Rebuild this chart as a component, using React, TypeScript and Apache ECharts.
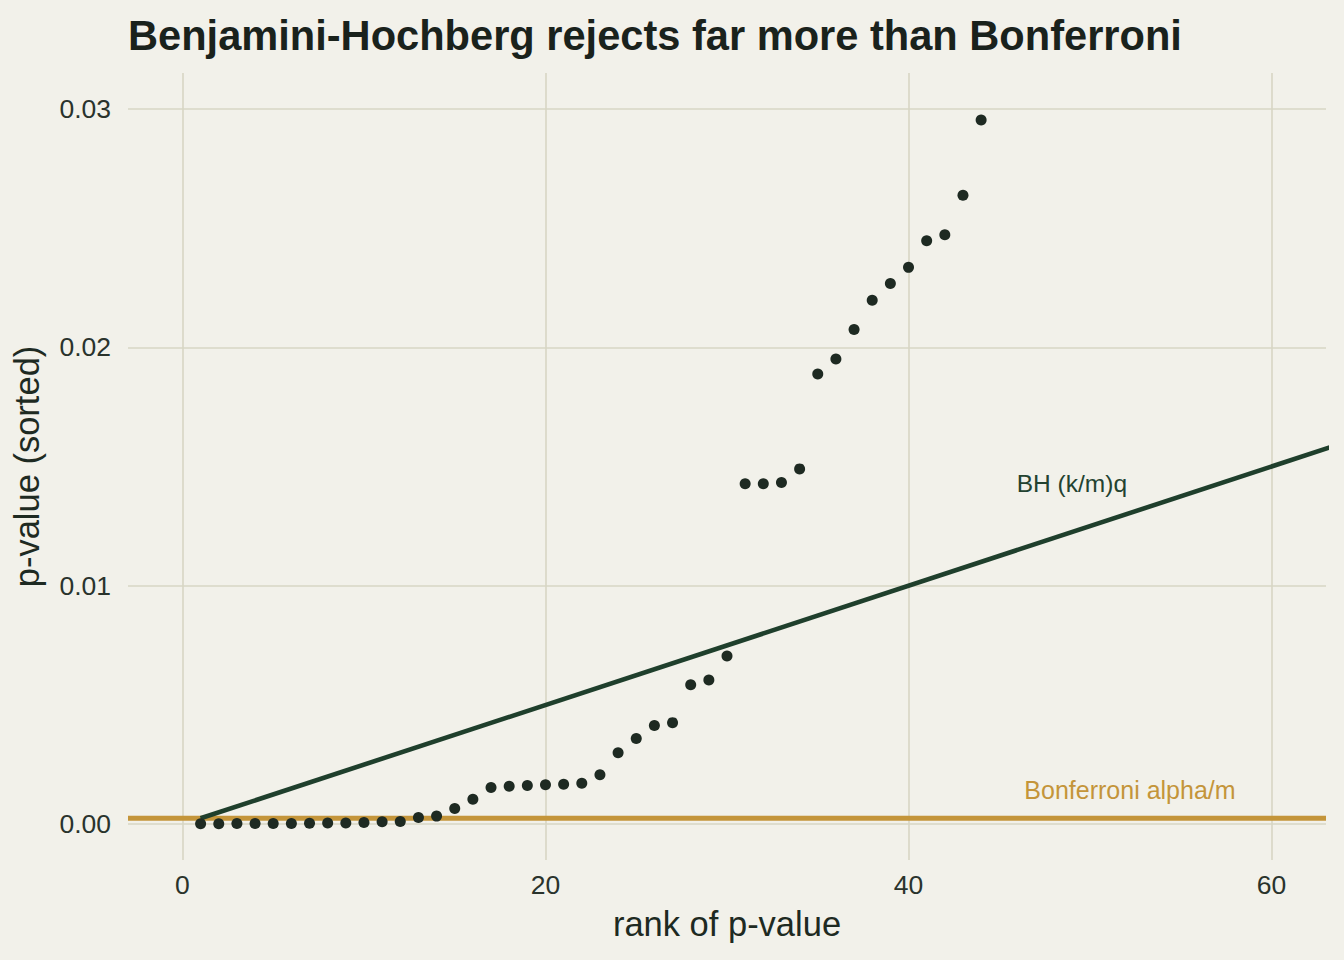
import React, { useEffect, useRef } from "react";
import * as echarts from "echarts";

// Sorted p-values and their ranks
const ranks = [
  1, 2, 3, 4, 5, 6, 7, 8, 9, 10, 11, 12, 13, 14, 15, 16, 17, 18, 19, 20, 21, 22,
  23, 24, 25, 26, 27, 28, 29, 30, 31, 32, 33, 34, 35, 36, 37, 38, 39, 40, 41, 42,
  43, 44,
];
const pValues = [
  0.00002, 0.00002, 0.00003, 0.00003, 0.00003, 0.00003, 0.00004, 0.00005, 0.00005,
  0.00007, 0.0001, 0.00011, 0.00028, 0.00034, 0.00066, 0.00105, 0.00154, 0.00159,
  0.00162, 0.00166, 0.00168, 0.00172, 0.00207, 0.003, 0.00359, 0.00414, 0.00426,
  0.00585, 0.00605, 0.00705, 0.01428, 0.01428, 0.01433, 0.0149, 0.01888, 0.01951,
  0.02074, 0.02197, 0.02267, 0.02335, 0.02447, 0.02472, 0.02637, 0.02953,
];

// Testing setup
const M = 200; // number of tests
const Q = 0.05; // false discovery rate
const ALPHA = 0.05; // family-wise error rate

// Axis ranges and ticks
const xRange = [-3, 63];
const yRange = [-0.0015, 0.0315];
const xTicks = [0, 20, 40, 60];
const yTicks = [0, 0.01, 0.02, 0.03];

// Annotation anchors (data coordinates)
const bhLabel = { text: "BH (k/m)q", at: [49, 0.0143] };
const bonfLabel = { text: "Bonferroni alpha/m", at: [52.2, 0.00142] };

const BG = "#f2f1ea";
const GRID = "#d7d6c4";
const INK = "#1e2a22";
const BH_COLOR = "#1f3f2c";
const BONF_COLOR = "#c4953a";
const FONT = "'Liberation Sans', Arial, Helvetica, sans-serif";

export default function App() {
  const ref = useRef<HTMLDivElement>(null);

  useEffect(() => {
    if (!ref.current) return;
    document.body.style.margin = "0";
    document.body.style.background = BG;
    const chart = echarts.init(ref.current, undefined, { renderer: "svg" });

    const points = ranks.map((r, i) => [r, pValues[i]]);
    const bhLine = [
      [1, (1 / M) * Q],
      [M, (M / M) * Q],
    ];
    const bonfLine = [
      [xRange[0], ALPHA / M],
      [xRange[1], ALPHA / M],
    ];

    chart.setOption({
      animation: false,
      backgroundColor: BG,
      textStyle: { fontFamily: FONT },
      title: {
        text: "Benjamini-Hochberg rejects far more than Bonferroni",
        left: 123,
        top: 9,
        textStyle: {
          fontFamily: FONT,
          fontSize: 41.6,
          fontWeight: "bold",
          color: "#1a221c",
        },
      },
      grid: { left: 128, right: 18, top: 73, bottom: 100 },
      xAxis: {
        type: "value",
        min: xRange[0],
        max: xRange[1],
        name: "rank of p-value",
        nameLocation: "middle",
        nameGap: 46,
        nameTextStyle: { fontSize: 34.5, color: INK, fontFamily: FONT },
        axisLine: { show: false },
        axisTick: { show: false },
        splitLine: { show: false },
        axisLabel: {
          customValues: xTicks,
          fontSize: 26.5,
          color: "#2a332c",
          margin: 11,
          fontFamily: FONT,
        },
      },
      yAxis: {
        type: "value",
        min: yRange[0],
        max: yRange[1],
        name: "p-value (sorted)",
        nameLocation: "middle",
        nameGap: 84,
        nameTextStyle: { fontSize: 34.5, color: INK, fontFamily: FONT },
        axisLine: { show: false },
        axisTick: { show: false },
        splitLine: { show: false },
        axisLabel: {
          customValues: yTicks,
          formatter: (v: number) => v.toFixed(2),
          fontSize: 26.5,
          color: "#2a332c",
          margin: 17,
          fontFamily: FONT,
        },
      },
      series: [
        {
          // panel grid lines
          type: "line",
          data: [],
          z: 0,
          silent: true,
          markLine: {
            z: 0,
            silent: true,
            symbol: ["none", "none"],
            label: { show: false },
            lineStyle: { color: GRID, width: 1.6, type: "solid" },
            emphasis: { disabled: true },
            data: [
              ...yTicks.map((v) => ({ yAxis: v })),
              ...xTicks.map((v) => ({ xAxis: v })),
            ],
          },
        },
        {
          type: "line",
          data: bonfLine,
          z: 2,
          symbol: "none",
          silent: true,
          lineStyle: { color: BONF_COLOR, width: 4.8 },
        },
        {
          type: "line",
          data: bhLine,
          z: 3,
          symbol: "none",
          silent: true,
          clip: true,
          lineStyle: { color: BH_COLOR, width: 4.6 },
        },
        {
          type: "scatter",
          data: points,
          z: 4,
          symbolSize: 11,
          itemStyle: { color: INK, opacity: 1 },
          silent: true,
        },
      ],
    });

    const bhPos = chart.convertToPixel({ gridIndex: 0 }, bhLabel.at) as number[];
    const bonfPos = chart.convertToPixel({ gridIndex: 0 }, bonfLabel.at) as number[];
    chart.setOption({
      graphic: [
        {
          type: "text",
          x: bhPos[0],
          y: bhPos[1],
          style: {
            text: bhLabel.text,
            fill: "#234230",
            fontSize: 24.5,
            fontFamily: FONT,
            align: "center",
            verticalAlign: "middle",
          },
        },
        {
          type: "text",
          x: bonfPos[0],
          y: bonfPos[1],
          style: {
            text: bonfLabel.text,
            fill: BONF_COLOR,
            fontSize: 25,
            fontFamily: FONT,
            align: "center",
            verticalAlign: "middle",
          },
        },
      ],
    });

    return () => chart.dispose();
  }, []);

  return (
    <div
      ref={ref}
      style={{ position: "fixed", left: 0, top: 0, width: 1344, height: 960 }}
    />
  );
}
